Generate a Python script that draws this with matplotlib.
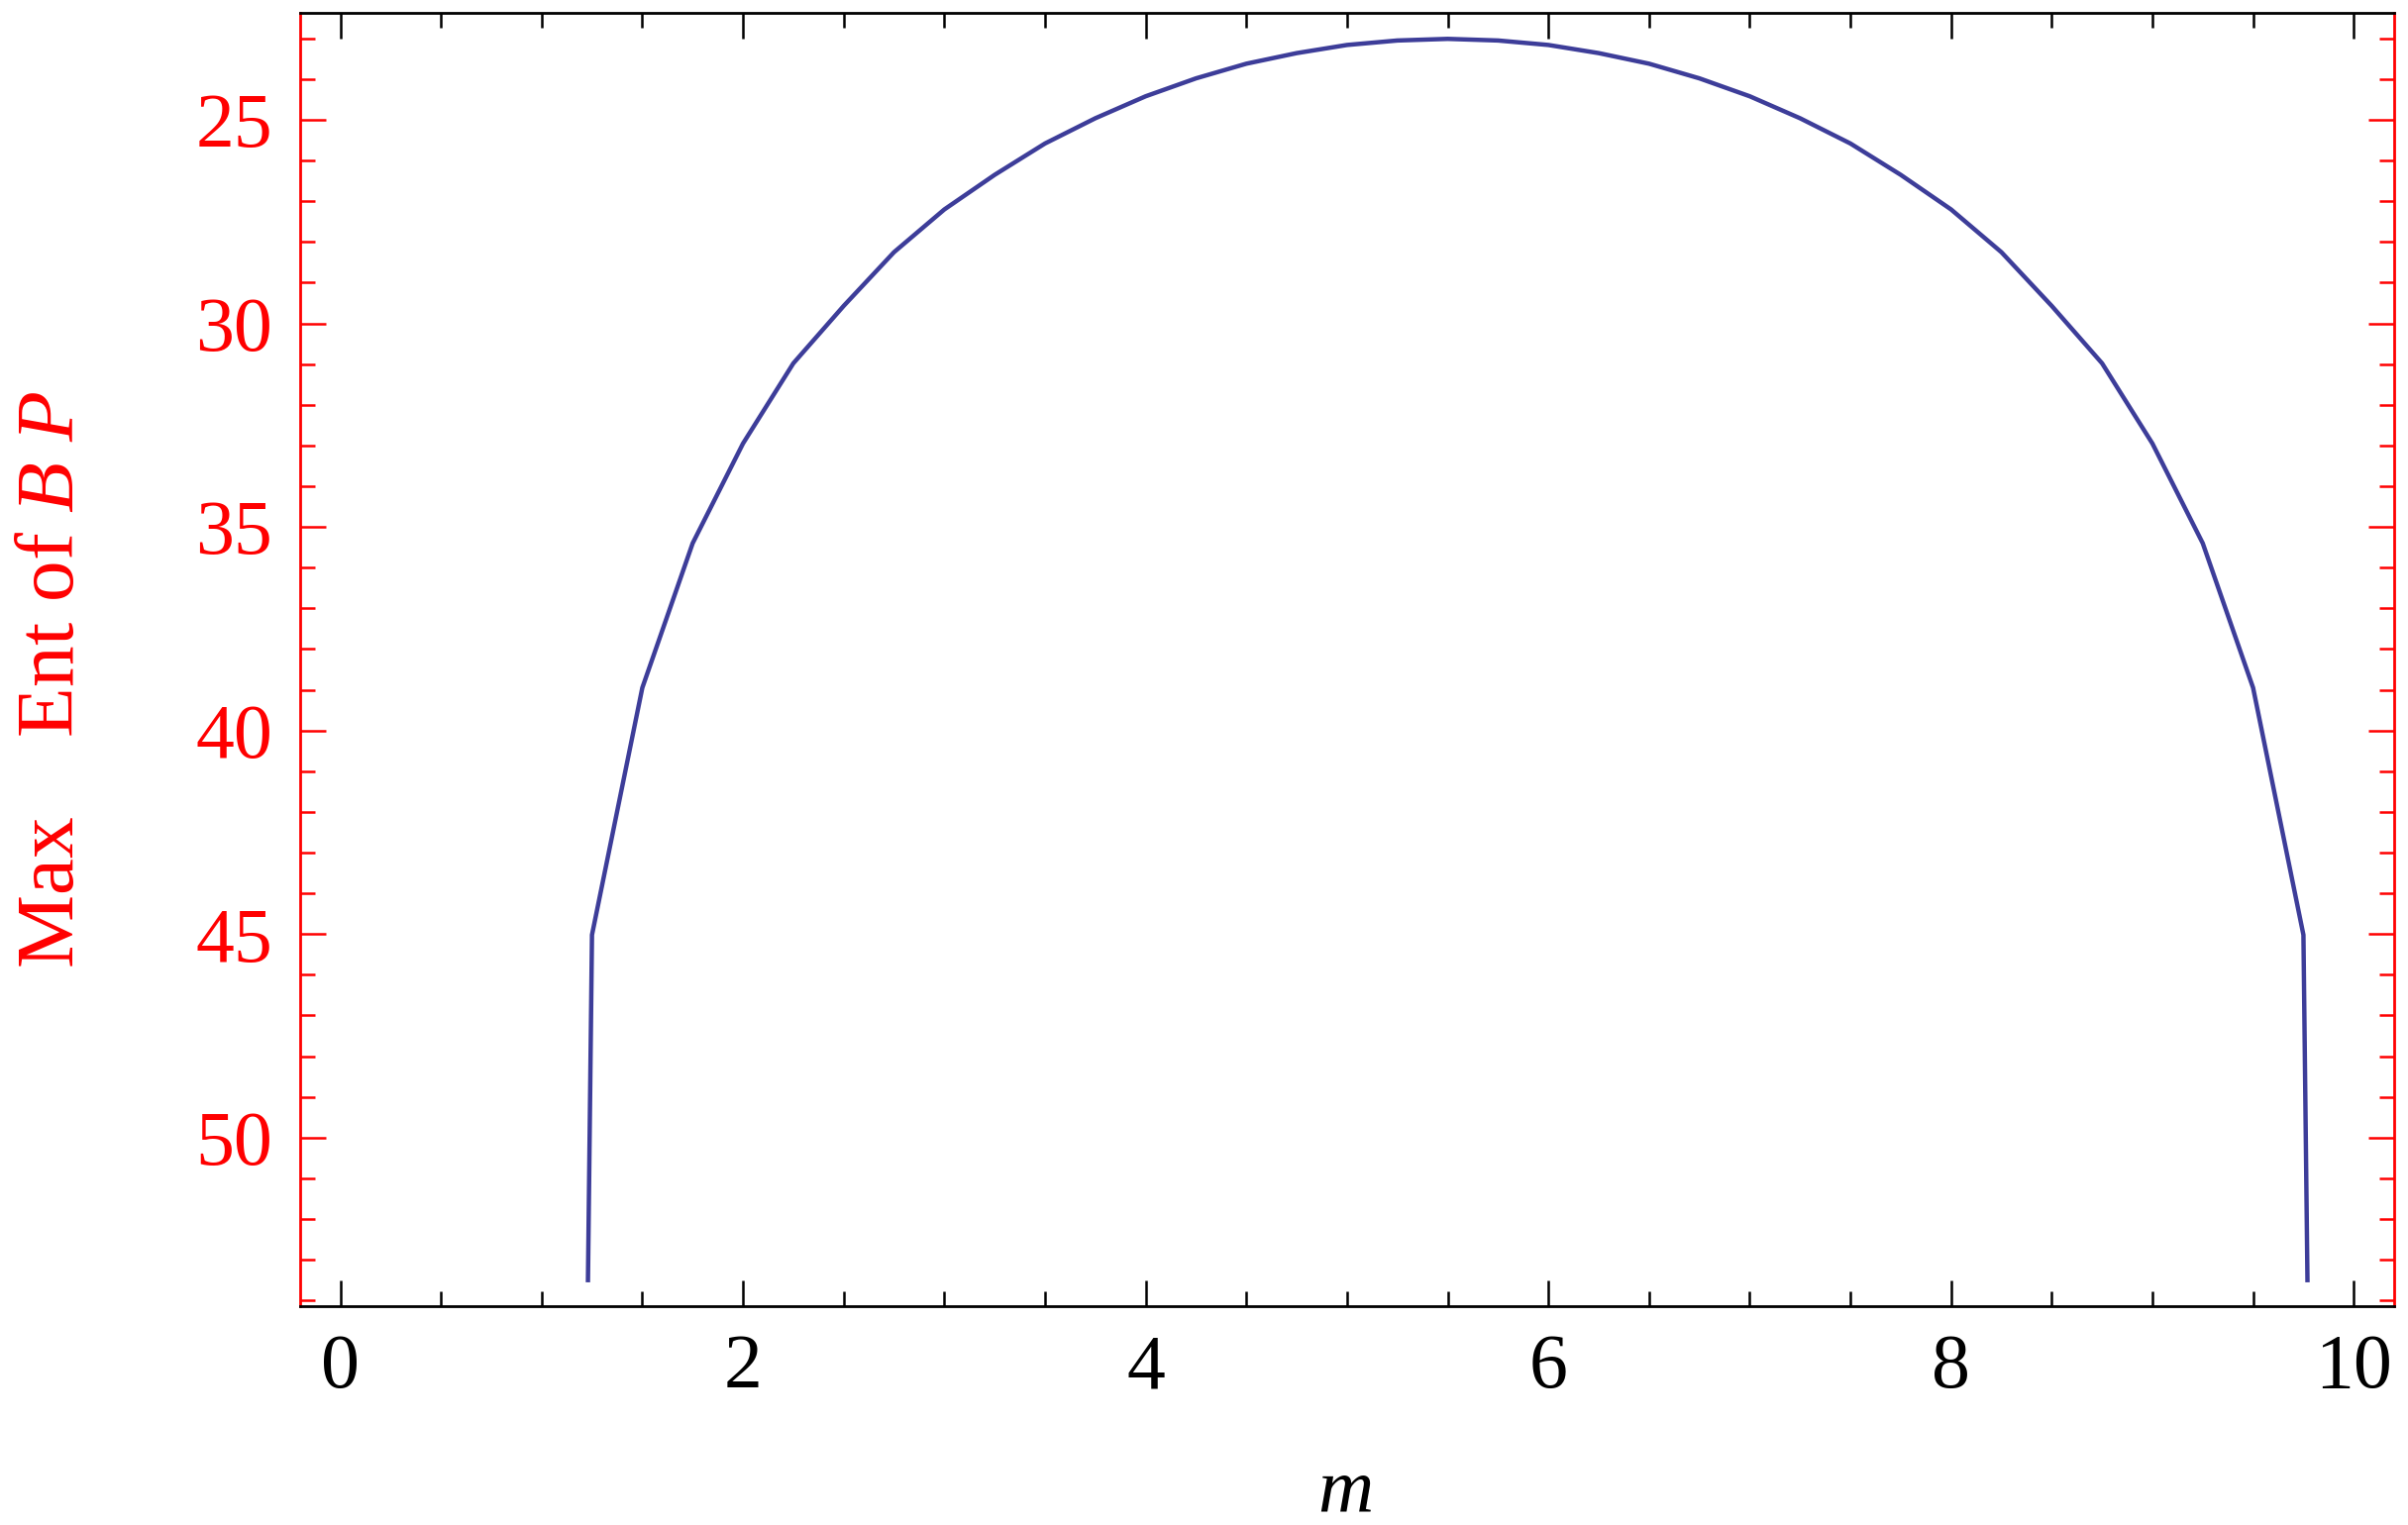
import matplotlib
matplotlib.use("Agg")
import matplotlib.pyplot as plt
from matplotlib.ticker import MultipleLocator

plt.rcParams['font.family'] = ['Liberation Serif', 'DejaVu Serif']
plt.rcParams['mathtext.fontset'] = 'custom'
plt.rcParams['mathtext.rm'] = 'Liberation Serif'
plt.rcParams['mathtext.it'] = 'Liberation Serif:italic'

# curve (y axis runs downwards)
m_vals = [1.23, 1.25, 1.5, 1.75, 2.0, 2.25, 2.5, 2.75, 3.0, 3.25, 3.5, 3.75,
          4.0, 4.25, 4.5, 4.75, 5.0, 5.25, 5.5, 5.75, 6.0, 6.25, 6.5, 6.75,
          7.0, 7.25, 7.5, 7.75, 8.0, 8.25, 8.5, 8.75, 9.0, 9.25, 9.5, 9.75, 9.77]
max_ent = [53.5, 45.02, 38.95, 35.4, 32.95, 30.98, 29.57, 28.25, 27.2, 26.35,
           25.58, 24.96, 24.42, 23.98, 23.62, 23.36, 23.16, 23.05, 23.01,
           23.05, 23.16, 23.36, 23.62, 23.98, 24.42, 24.96, 25.58, 26.35,
           27.2, 28.25, 29.57, 30.98, 32.95, 35.4, 38.95, 45.02, 53.5]

x_ticks = [0, 2, 4, 6, 8, 10]
y_ticks = [25, 30, 35, 40, 45, 50]

fig = plt.figure(figsize=(24.31, 15.40), dpi=100)
ax = fig.add_axes([0.1246, 0.1435, 0.8696, 0.8481])

ax.plot(m_vals, max_ent, color='#3d3d99', linewidth=3.2)

ax.set_xlim(-0.2, 10.2)
ax.set_ylim(54.14, 22.37)
ax.set_xticks(x_ticks)
ax.set_yticks(y_ticks)
ax.xaxis.set_minor_locator(MultipleLocator(0.5))
ax.yaxis.set_minor_locator(MultipleLocator(1))

for side in ['left', 'right']:
    ax.spines[side].set_color('red')
    ax.spines[side].set_linewidth(2.0)
for side in ['top', 'bottom']:
    ax.spines[side].set_color('black')
    ax.spines[side].set_linewidth(2.0)

ax.tick_params(axis='x', which='both', direction='in', top=True, bottom=True,
               color='black', width=1.8, labelsize=56, pad=20)
ax.tick_params(axis='y', which='both', direction='in', left=True, right=True,
               color='red', labelcolor='red', width=1.8, labelsize=56, pad=20)
ax.tick_params(which='major', length=18.5)
ax.tick_params(which='minor', length=11)

fig.text(1357 / 2431, 1 - 1527 / 1540, r'$m$', fontsize=56, color='black',
         ha='center', va='baseline')
fig.text(74 / 2431, 1 - 686 / 1540, r'Max$\quad$ Ent of $B$ $P$', fontsize=60,
         color='red', rotation=90, rotation_mode='anchor', ha='center', va='baseline')

fig.savefig('out.png', dpi=100)
